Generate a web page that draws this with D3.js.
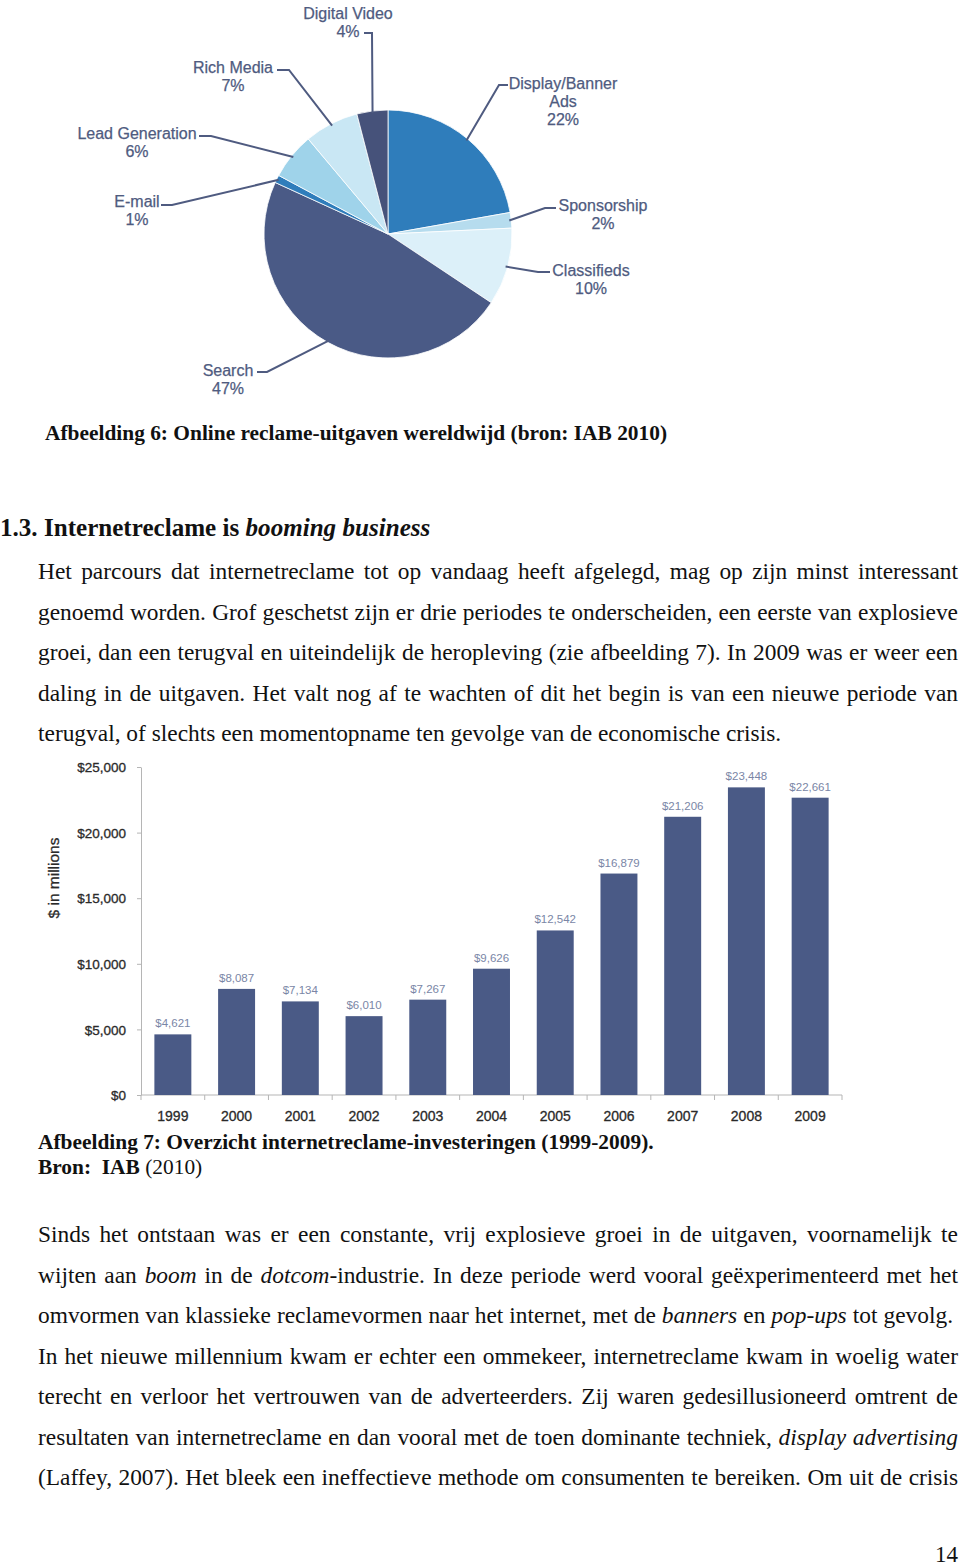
<!DOCTYPE html>
<html><head><meta charset="utf-8">
<script src="https://cdn.jsdelivr.net/npm/d3@7"></script>
<style>
html,body{margin:0;padding:0;background:#fff;}
svg{display:block;}
</style></head>
<body>
<svg id="page" width="960" height="1567"></svg>
<script>
// ---------- DATA ----------
const pieLabels = ["Display/Banner Ads", "Sponsorship", "Classifieds", "Search", "E-mail", "Lead Generation", "Rich Media", "Digital Video"];
const pieValues = [22, 2, 10, 47, 1, 6, 7, 4];
const pieColors = ["#2f7dbb", "#b6dcee", "#dcf0f9", "#4a5a86", "#2f7dbb", "#9fd3ea", "#c9e7f4", "#46527a"];

const years = ["1999","2000","2001","2002","2003","2004","2005","2006","2007","2008","2009"];
const spend = [4621, 8087, 7134, 6010, 7267, 9626, 12542, 16879, 21206, 23448, 22661];
const yTicks = [0, 5000, 10000, 15000, 20000, 25000];

// ---------- LAYOUT (annotation placement) ----------
const pieLabelLayout = [
  {lines:["Display/Banner","Ads","22%"], cx:563, y:89, ex:508, ey:85, kx:499},
  {lines:["Sponsorship","2%"], cx:603, y:211, ex:556, ey:208, kx:545},
  {lines:["Classifieds","10%"], cx:591, y:276, ex:550, ey:272, kx:538},
  {lines:["Search","47%"], cx:228, y:376, ex:257, ey:372, kx:267},
  {lines:["E-mail","1%"], cx:137, y:207, ex:161, ey:205, kx:172},
  {lines:["Lead Generation","6%"], cx:137, y:139, ex:199, ey:136, kx:211},
  {lines:["Rich Media","7%"], cx:233, y:73, ex:277, ey:70, kx:289},
  {lines:["Digital Video","4%"], cx:348, y:19, ex:364, ey:33, kx:372}
];

const para1 = [
  "Het parcours dat internetreclame tot op vandaag heeft afgelegd, mag op zijn minst interessant",
  "genoemd worden. Grof geschetst zijn er drie periodes te onderscheiden, een eerste van explosieve",
  "groei, dan een terugval en uiteindelijk de heropleving (zie afbeelding 7). In 2009 was er weer een",
  "daling in de uitgaven. Het valt nog af te wachten of dit het begin is van een nieuwe periode van",
  "terugval, of slechts een momentopname ten gevolge van de economische crisis."
];
const para2 = [
  "Sinds het ontstaan was er een constante, vrij explosieve groei in de uitgaven, voornamelijk te",
  "wijten aan *boom* in de *dotcom*-industrie. In deze periode werd vooral geëxperimenteerd met het",
  "omvormen van klassieke reclamevormen naar het internet, met de *banners* en *pop-ups* tot gevolg.",
  "In het nieuwe millennium kwam er echter een ommekeer, internetreclame kwam in woelig water",
  "terecht en verloor het vertrouwen van de adverteerders. Zij waren gedesillusioneerd omtrent de",
  "resultaten van internetreclame en dan vooral met de toen dominante techniek, *display* *advertising*",
  "(Laffey, 2007). Het bleek een ineffectieve methode om consumenten te bereiken. Om uit de crisis"
];

const svg = d3.select("#page");
const SERIF = "'Liberation Serif','Times New Roman',serif";
const SANS = "'Liberation Sans',Arial,sans-serif";

// ---------- PIE ----------
const pcx = 388, pcy = 234, pr = 124;
const pie = d3.pie().sort(null).value(d => d)(pieValues);
const arc = d3.arc().innerRadius(0).outerRadius(pr);
const gp = svg.append("g").attr("transform", `translate(${pcx},${pcy})`);
gp.selectAll("path").data(pie).join("path")
  .attr("d", arc)
  .attr("fill", (d,i) => pieColors[i])
  .attr("stroke", "#ffffff").attr("stroke-width", 0.8);

const labColor = "#4f5b80";
const gl = svg.append("g");
pie.forEach((d, i) => {
  const L = pieLabelLayout[i];
  const mid = (d.startAngle + d.endAngle) / 2;
  const px = pcx + Math.sin(mid) * (pr - 2);
  const py = pcy - Math.cos(mid) * (pr - 2);
  gl.append("polyline")
    .attr("points", `${L.ex},${L.ey} ${L.kx},${L.ey} ${px},${py}`)
    .attr("fill", "none").attr("stroke", labColor).attr("stroke-width", 2);
  const t = gl.append("text").attr("text-anchor", "middle")
    .attr("font-family", SANS).attr("font-size", 16).attr("fill", labColor)
    .attr("stroke", labColor).attr("stroke-width", 0.25);
  L.lines.forEach((ln, k) => {
    t.append("tspan").attr("x", L.cx).attr("y", L.y + k * 18).text(ln);
  });
});

// ---------- TEXT HELPERS ----------
function parseWords(line) {
  return line.split(" ").map(w => {
    const parts = [];
    const re = /\*([^*]+)\*|([^*]+)/g; let m;
    while ((m = re.exec(w)) !== null) {
      if (m[1]) parts.push({t: m[1], i: true}); else parts.push({t: m[2], i: false});
    }
    return parts;
  });
}
function drawLine(g, line, x0, y, width, justify, size, bold) {
  const words = parseWords(line);
  const els = words.map(parts => {
    const t = g.append("text").attr("y", y).attr("font-family", SERIF)
      .attr("font-size", size).attr("font-weight", bold ? "bold" : "normal").attr("fill", "#111");
    parts.forEach(p => t.append("tspan").attr("font-style", p.i ? "italic" : "normal").text(p.t));
    return t;
  });
  const ws = els.map(e => e.node().getComputedTextLength());
  const total = d3.sum(ws);
  let gap;
  if (justify && els.length > 1) gap = (width - total) / (els.length - 1);
  else gap = size * 0.25;
  let x = x0;
  els.forEach((e, k) => { e.attr("x", x); x += ws[k] + gap; });
}

// ---------- CAPTIONS / HEADINGS ----------
const gt = svg.append("g");
gt.append("text").attr("x", 45).attr("y", 440).attr("font-family", SERIF)
  .attr("font-size", 21.4).attr("font-weight", "bold").attr("fill", "#111")
  .text("Afbeelding 6: Online reclame-uitgaven wereldwijd (bron: IAB 2010)");

const h = gt.append("text").attr("x", 0).attr("y", 536).attr("font-family", SERIF)
  .attr("font-size", 25.1).attr("font-weight", "bold").attr("fill", "#111");
h.append("tspan").text("1.3. Internetreclame is ");
h.append("tspan").attr("font-style", "italic").text("booming business");

para1.forEach((ln, k) => drawLine(gt, ln, 38, 579 + k * 40.5, 920, k < para1.length - 1, 23.4, false));

gt.append("text").attr("x", 38).attr("y", 1149).attr("font-family", SERIF)
  .attr("font-size", 21.4).attr("font-weight", "bold").attr("fill", "#111")
  .text("Afbeelding 7: Overzicht internetreclame-investeringen (1999-2009).");
const br = gt.append("text").attr("x", 38).attr("y", 1174).attr("font-family", SERIF)
  .attr("font-size", 21.4).attr("fill", "#111");
br.append("tspan").attr("font-weight", "bold").text("Bron:\u00a0 IAB ");
br.append("tspan").text("(2010)");

const p2w = [920, 920, 915, 920, 920, 920, 920];
para2.forEach((ln, k) => drawLine(gt, ln, 38, 1242 + k * 40.5, p2w[k], true, 23.4, false));

gt.append("text").attr("x", 958).attr("y", 1562).attr("text-anchor", "end")
  .attr("font-family", SERIF).attr("font-size", 23).attr("fill", "#111").text("14");

// ---------- BAR CHART ----------
const x = d3.scaleBand().domain(years).range([141, 842]).paddingInner(0.42).paddingOuter(0.21);
const y = d3.scaleLinear().domain([0, 25000]).range([1095, 767]);
const gb = svg.append("g");

const yAxis = gb.append("g").attr("transform", "translate(141,0)")
  .call(d3.axisLeft(y).tickValues(yTicks).tickFormat(d3.format("$,")).tickSize(4).tickSizeOuter(0).tickPadding(11));
yAxis.select(".domain").attr("stroke", "#b5b5b5");
yAxis.selectAll(".tick line").attr("stroke", "#b5b5b5");
yAxis.selectAll(".tick text").attr("font-family", SANS).attr("font-size", 13.5).attr("fill", "#2a2a2a")
  .attr("stroke", "#2a2a2a").attr("stroke-width", 0.3).attr("dy", "0.35em");

gb.append("line").attr("x1", 141).attr("x2", 842).attr("y1", y(0)).attr("y2", y(0))
  .attr("stroke", "#b5b5b5").attr("stroke-width", 1);
const bounds = d3.range(years.length + 1).map(k => 141 + k * x.step());
gb.selectAll("line.bt").data(bounds).join("line").attr("class", "bt")
  .attr("x1", d => d).attr("x2", d => d).attr("y1", y(0)).attr("y2", y(0) + 5)
  .attr("stroke", "#b5b5b5");

gb.selectAll("rect.bar").data(spend).join("rect").attr("class", "bar")
  .attr("x", (d,i) => x(years[i])).attr("width", x.bandwidth())
  .attr("y", d => y(d)).attr("height", d => y(0) - y(d))
  .attr("fill", "#4a5a86");

gb.selectAll("text.val").data(spend).join("text").attr("class", "val")
  .attr("x", (d,i) => x(years[i]) + x.bandwidth() / 2).attr("y", d => y(d) - 7)
  .attr("text-anchor", "middle").attr("font-family", SANS).attr("font-size", 11.5)
  .attr("fill", "#7a86a6").text(d => d3.format("$,")(d));

gb.selectAll("text.yr").data(years).join("text").attr("class", "yr")
  .attr("x", d => x(d) + x.bandwidth() / 2).attr("y", 1121)
  .attr("text-anchor", "middle").attr("font-family", SANS).attr("font-size", 14)
  .attr("fill", "#2a2a2a").attr("stroke", "#2a2a2a").attr("stroke-width", 0.3).text(d => d);

gb.append("text").attr("transform", "translate(59,878) rotate(-90)")
  .attr("text-anchor", "middle").attr("font-family", SANS).attr("font-size", 15.5)
  .attr("fill", "#2a2a2a").attr("stroke", "#2a2a2a").attr("stroke-width", 0.3).text("$ in millions");
</script>
</body></html>
